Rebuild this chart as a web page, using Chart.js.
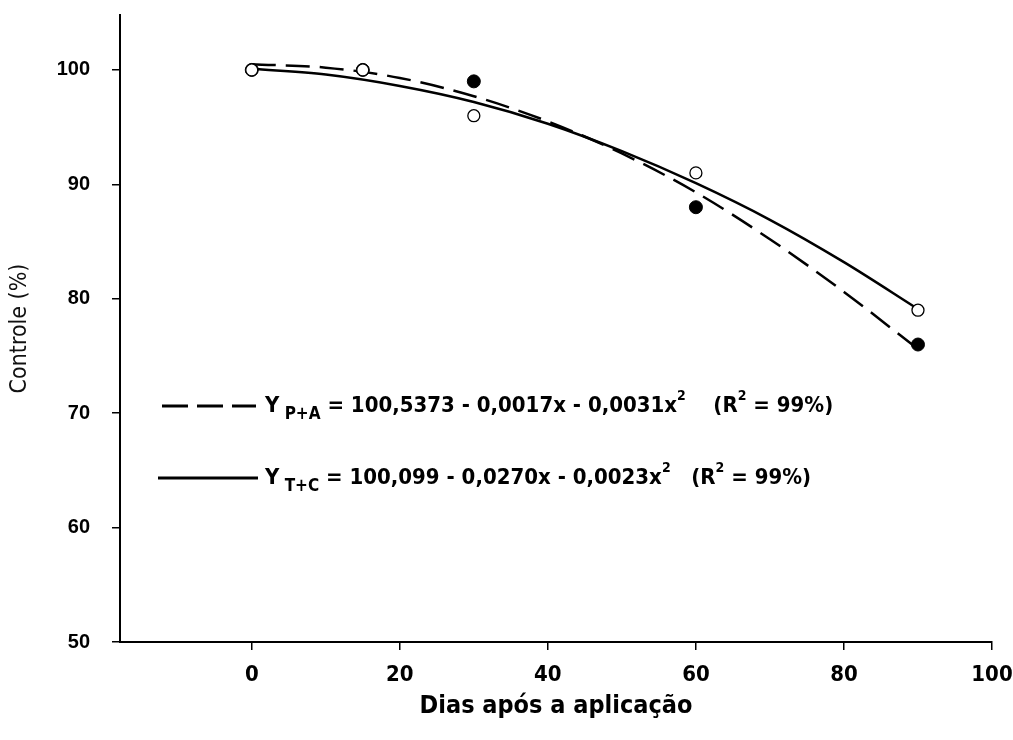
<!DOCTYPE html>
<html>
<head>
<meta charset="utf-8">
<script src="https://cdn.jsdelivr.net/npm/chart.js@4/dist/chart.umd.min.js"></script>
<style>
  html, body { margin: 0; padding: 0; background: #fff; }
</style>
</head>
<body>
<canvas id="chart" width="1013" height="740"></canvas>
<script>
// observed points (days after application, % control)
const days = [0, 15, 30, 60, 90];
const controlPA = [100, 100, 99, 88, 76];
const controlTC = [100, 100, 96, 91, 79];

// fitted curves
const curveDays = [0, 10, 20, 30, 40, 50, 60, 70, 80, 90];
const fitPA = [100.5, 100.2, 99.3, 97.7, 95.5, 92.7, 89.3, 85.2, 80.6, 75.6];
const fitTC = [100.1, 99.6, 98.6, 97.2, 95.3, 92.9, 90.1, 86.9, 83.2, 79.1];

const xTicks = [0, 20, 40, 60, 80, 100];
const yTicks = [50, 60, 70, 80, 90, 100];

const legendPA = [
    {t: 'Y'}, {t: ' P+A', sub: true}, {t: ' = 100,5373 - 0,0017x - 0,0031x'},
    {t: '2', sup: true}, {t: '    (R'}, {t: '2', sup: true}, {t: ' = 99%)'}
];
const legendTC = [
    {t: 'Y'}, {t: ' T+C', sub: true}, {t: ' = 100,099 - 0,0270x - 0,0023x'},
    {t: '2', sup: true}, {t: '   (R'}, {t: '2', sup: true}, {t: ' = 99%)'}
];

const toXY = (xs, ys) => xs.map((x, i) => ({x: x, y: ys[i]}));

const NARROW = '"DejaVu Sans Condensed", "Liberation Sans Narrow", "Liberation Sans", Arial, sans-serif';
const ARIAL = '"Liberation Sans", Arial, sans-serif';

// equation box drawn inside the plot area
const equationLegend = {
    id: 'equationLegend',
    afterDatasetsDraw(chart) {
        const ctx = chart.ctx;
        const a = chart.chartArea;
        const rows = [
            {dash: [26, 9], x0: a.left + 42, x1: a.left + 136, y: a.top + 391, parts: legendPA},
            {dash: [], x0: a.left + 38, x1: a.left + 138, y: a.top + 463, parts: legendTC}
        ];
        ctx.save();
        rows.forEach(row => {
            ctx.strokeStyle = '#000';
            ctx.lineWidth = 3;
            ctx.setLineDash(row.dash);
            ctx.beginPath();
            ctx.moveTo(row.x0, row.y);
            ctx.lineTo(row.x1, row.y);
            ctx.stroke();
            ctx.setLineDash([]);

            let x = a.left + 145;
            ctx.fillStyle = '#000';
            ctx.textBaseline = 'middle';
            ctx.textAlign = 'left';
            row.parts.forEach(p => {
                let dy = 0;
                if (p.sub) {
                    ctx.font = 'bold 17px ' + NARROW;
                    dy = 9;
                } else if (p.sup) {
                    ctx.font = 'bold 14px ' + NARROW;
                    dy = -10;
                } else {
                    ctx.font = 'bold 22px ' + NARROW;
                }
                ctx.fillText(p.t, x, row.y + dy);
                x += ctx.measureText(p.t).width;
            });
        });
        ctx.restore();
    }
};

new Chart(document.getElementById('chart'), {
    type: 'scatter',
    data: {
        datasets: [
            {
                label: 'T+C',
                data: toXY(days, controlTC),
                order: 0,
                pointRadius: 6,
                pointBackgroundColor: '#fff',
                pointBorderColor: '#000',
                pointBorderWidth: 1.3
            },
            {
                label: 'P+A',
                data: toXY(days, controlPA),
                order: 1,
                pointRadius: 6.5,
                pointBackgroundColor: '#000',
                pointBorderColor: '#000',
                pointBorderWidth: 1
            },
            {
                label: 'P+A fit',
                data: toXY(curveDays, fitPA),
                order: 2,
                showLine: true,
                borderColor: '#000',
                borderWidth: 2.5,
                borderDash: [24, 10],
                pointRadius: 0,
                cubicInterpolationMode: 'monotone'
            },
            {
                label: 'T+C fit',
                data: toXY(curveDays, fitTC),
                order: 3,
                showLine: true,
                borderColor: '#000',
                borderWidth: 2.5,
                pointRadius: 0,
                cubicInterpolationMode: 'monotone'
            }
        ]
    },
    options: {
        responsive: false,
        animation: false,
        layout: {padding: {top: 15, right: 21}},
        plugins: {
            legend: {display: false},
            tooltip: {enabled: false}
        },
        scales: {
            x: {
                type: 'linear',
                min: -17.8,
                max: 100,
                afterBuildTicks: scale => { scale.ticks = xTicks.map(v => ({value: v})); },
                afterFit: scale => {
                    scale.height = 98;
                    scale.paddingLeft = 0;
                    scale.paddingRight = 0;
                },
                border: {display: true, color: '#000', width: 2},
                grid: {drawOnChartArea: false, drawTicks: true, tickLength: 8, color: '#000', lineWidth: 1.5},
                ticks: {color: '#000', padding: 12, maxRotation: 0, font: {family: NARROW, size: 22, weight: 'bold'}},
                title: {
                    display: true,
                    text: 'Dias após a aplicação',
                    color: '#000',
                    font: {family: NARROW, size: 25, weight: 'bold'},
                    padding: {top: 0, bottom: 19}
                }
            },
            y: {
                type: 'linear',
                min: 50,
                max: 104.8,
                afterBuildTicks: scale => { scale.ticks = yTicks.map(v => ({value: v})); },
                afterFit: scale => {
                    scale.width = 120;
                    scale.paddingTop = 0;
                    scale.paddingBottom = 0;
                },
                border: {display: true, color: '#000', width: 2},
                grid: {drawOnChartArea: false, drawTicks: true, tickLength: 8, color: '#000', lineWidth: 1.5},
                ticks: {color: '#000', padding: 22, font: {family: ARIAL, size: 20, weight: 'bold'}},
                title: {
                    display: true,
                    text: 'Controle (%)',
                    color: '#111',
                    font: {family: NARROW, size: 23},
                    padding: {top: 6, bottom: 0}
                }
            }
        }
    },
    plugins: [equationLegend]
});
</script>
</body>
</html>
